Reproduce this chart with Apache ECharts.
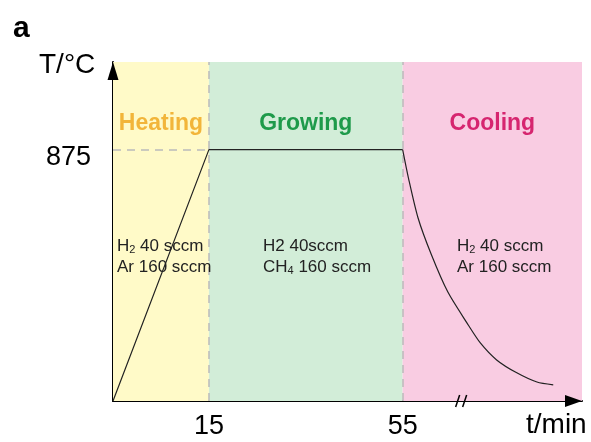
<!DOCTYPE html>
<html>
<head>
<meta charset="utf-8">
<script src="https://cdn.jsdelivr.net/npm/echarts@6/dist/echarts.min.js"></script>
<style>
  html, body { margin: 0; padding: 0; background: #fff; }
  #chart { width: 591px; height: 442px; }
</style>
</head>
<body>
<div id="chart"></div>
<script>
// schematic time axis: each phase gets its own width, labels show real minutes
var phaseNames = ['Heating', 'Growing', 'Cooling'];
var phaseEdges = [0, 1, 3.02, 4.89];
var tickPos = [1, 3.02];
var tickLabels = ['15', '55'];
var growTemp = 875;
var rampLine = [[0, 0], [1, 875], [3.02, 875]];
var coolCurve = [[3.02, 875], [3.08, 777], [3.18, 638], [3.32, 509], [3.49, 380],
                 [3.69, 272], [3.83, 202], [4.00, 143], [4.21, 98], [4.42, 66], [4.59, 56]];
var gasLines = [
  ['H{s|2} 40 sccm', 'Ar 160 sccm'],
  ['H2 40sccm', 'CH{s|4} 160 sccm'],
  ['H{s|2} 40 sccm', 'Ar 160 sccm']
];
var breakAt = 3.63;

var bgColors = ['#fffac8', '#d2edd8', '#f9cce2'];
var titleColors = ['#f2b53a', '#1e9a4a', '#d6256f'];
var font = 'Liberation Sans, Arial, sans-serif';

var chart = echarts.init(document.getElementById('chart'));

var areas = phaseNames.map(function (name, i) {
  return [{
    xAxis: phaseEdges[i],
    name: name,
    itemStyle: { color: bgColors[i] },
    label: { color: titleColors[i] }
  }, { xAxis: phaseEdges[i + 1] }];
});

chart.setOption({
  animation: false,
  grid: { left: 113, right: 9, top: 62, bottom: 41 },
  xAxis: {
    type: 'value', min: 0, max: phaseEdges[3],
    splitLine: { show: false },
    axisLine: { lineStyle: { color: '#000', width: 2 } },
    axisTick: { show: false },
    axisLabel: {
      customValues: tickPos,
      formatter: function (v) { return tickLabels[tickPos.indexOf(v)] || ''; },
      fontSize: 27, color: '#000', fontFamily: font, margin: 12
    }
  },
  yAxis: {
    type: 'value', min: 0, max: 1180,
    splitLine: { show: false },
    axisLine: { show: true, lineStyle: { color: '#000', width: 2 } },
    axisTick: { show: false },
    axisLabel: {
      customValues: [growTemp],
      formatter: function (v) { return v === growTemp ? '{t|' + growTemp + '}' : ''; },
      margin: 22,
      rich: { t: { fontSize: 27, color: '#000', fontFamily: font, padding: [15, 0, 0, 0] } }
    }
  },
  series: [
    {
      type: 'line', data: rampLine, symbol: 'none',
      lineStyle: { color: '#222', width: 1.2 },
      z: 5,
      markArea: {
        silent: true,
        label: {
          position: 'insideTop', distance: 50,
          fontSize: 23, fontWeight: 'bold', fontFamily: font
        },
        data: areas
      },
      markLine: {
        silent: true, symbol: 'none',
        label: { show: false },
        lineStyle: { color: '#bbb', type: [8, 6], width: 1.5 },
        data: [
          { xAxis: tickPos[0] },
          { xAxis: tickPos[1] },
          [{ coord: [0, growTemp] }, { coord: [tickPos[0], growTemp] }]
        ]
      }
    },
    {
      type: 'line', data: coolCurve, symbol: 'none', smooth: 0.25,
      lineStyle: { color: '#222', width: 1.2 }, z: 5
    }
  ]
});

// annotations
var gasX = [117, 263, 457];
var graphics = [];
gasLines.forEach(function (lines, i) {
  graphics.push({
    type: 'text', left: gasX[i], top: 236, z: 10,
    style: {
      text: lines.join('\n'),
      fontSize: 17, fontFamily: font, fill: '#222', lineHeight: 21,
      rich: { s: { fontSize: 11, fontFamily: font, fill: '#222', padding: [7, 0, 0, 0] } }
    }
  });
});
graphics.push({ type: 'text', left: 13, top: 14, style: { text: 'a', fontSize: 30, fontWeight: 'bold', fontFamily: font, fill: '#000' } });
graphics.push({ type: 'text', left: 39, top: 51, style: { text: 'T/°C', fontSize: 28, fontFamily: font, fill: '#000' } });
graphics.push({ type: 'text', left: 526, top: 411, style: { text: 't/min', fontSize: 28, fontFamily: font, fill: '#000' } });

// axis arrow heads at the ends of both axes
var o = chart.convertToPixel({ gridIndex: 0 }, [0, 0]);
var xe = chart.convertToPixel({ gridIndex: 0 }, [phaseEdges[3], 0]);
var ye = chart.convertToPixel({ gridIndex: 0 }, [0, 1180]);
graphics.push({ type: 'polygon', z: 30, shape: { points: [[xe[0], xe[1]], [xe[0] - 17, xe[1] - 6], [xe[0] - 17, xe[1] + 6]] }, style: { fill: '#000' } });
graphics.push({ type: 'polygon', z: 30, shape: { points: [[ye[0], ye[1]], [ye[0] - 5.5, ye[1] + 18], [ye[0] + 5.5, ye[1] + 18]] }, style: { fill: '#000' } });

var bp = chart.convertToPixel({ gridIndex: 0 }, [breakAt, 0]);
[-3.5, 3.5].forEach(function (dx) {
  graphics.push({
    type: 'line', z: 20,
    shape: { x1: bp[0] + dx - 2, y1: bp[1] + 6, x2: bp[0] + dx + 2, y2: bp[1] - 6 },
    style: { stroke: '#000', lineWidth: 1.5 }
  });
});
chart.setOption({ graphic: graphics });
</script>
</body>
</html>
